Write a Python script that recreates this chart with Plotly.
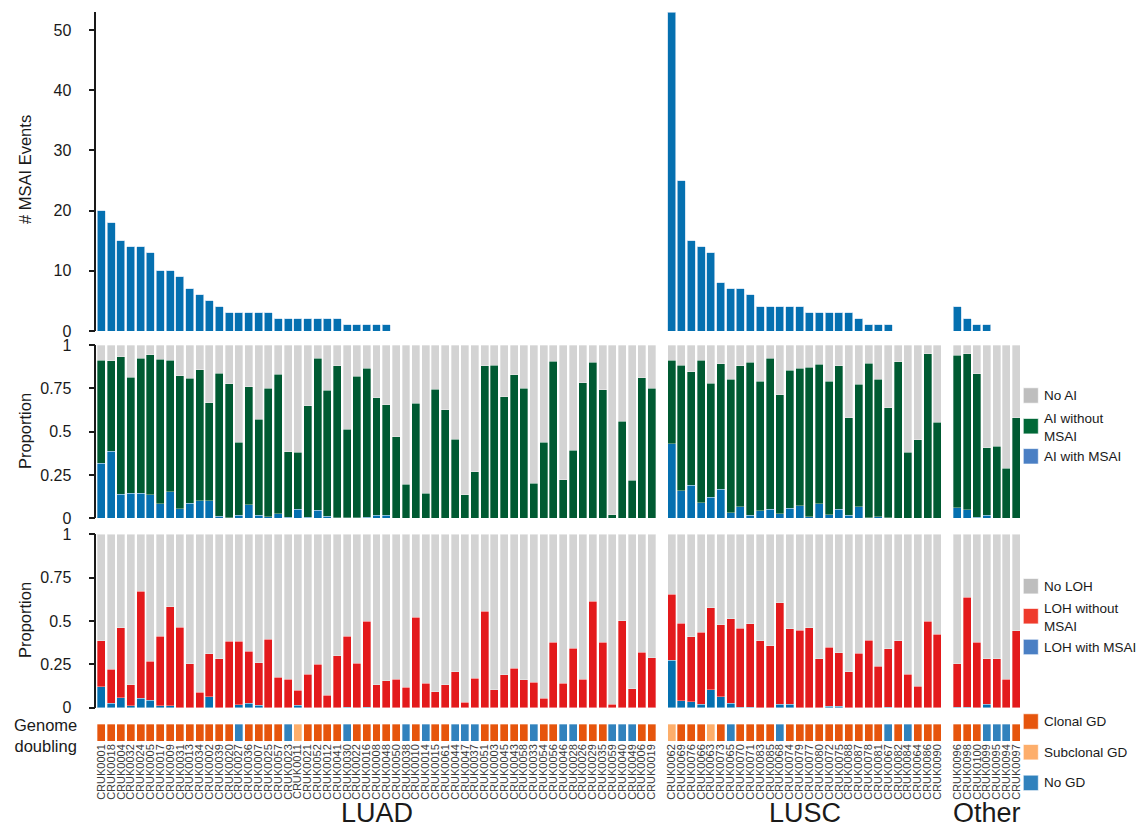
import plotly.graph_objects as go

W, H = 1136, 828

# ---------------- data ----------------
luad_ids = ["CRUK0001", "CRUK0018", "CRUK0004", "CRUK0032", "CRUK0024", "CRUK0005", "CRUK0017", "CRUK0009",
            "CRUK0031", "CRUK0013", "CRUK0034", "CRUK0002", "CRUK0039", "CRUK0020", "CRUK0027", "CRUK0036",
            "CRUK0007", "CRUK0025", "CRUK0057", "CRUK0023", "CRUK0011", "CRUK0021", "CRUK0052", "CRUK0012",
            "CRUK0041", "CRUK0030", "CRUK0022", "CRUK0016", "CRUK0008", "CRUK0048", "CRUK0050", "CRUK0038",
            "CRUK0010", "CRUK0014", "CRUK0015", "CRUK0061", "CRUK0044", "CRUK0047", "CRUK0037", "CRUK0051",
            "CRUK0003", "CRUK0045", "CRUK0043", "CRUK0058", "CRUK0033", "CRUK0054", "CRUK0056", "CRUK0046",
            "CRUK0028", "CRUK0026", "CRUK0029", "CRUK0035", "CRUK0059", "CRUK0040", "CRUK0049", "CRUK0006",
            "CRUK0019"]
lusc_ids = ["CRUK0062", "CRUK0069", "CRUK0076", "CRUK0066", "CRUK0063", "CRUK0073", "CRUK0065", "CRUK0070",
            "CRUK0071", "CRUK0083", "CRUK0085", "CRUK0068", "CRUK0074", "CRUK0079", "CRUK0077", "CRUK0080",
            "CRUK0072", "CRUK0075", "CRUK0088", "CRUK0087", "CRUK0078", "CRUK0081", "CRUK0067", "CRUK0082",
            "CRUK0084", "CRUK0064", "CRUK0086", "CRUK0090"]
other_ids = ["CRUK0096", "CRUK0098", "CRUK0100", "CRUK0099", "CRUK0095", "CRUK0094", "CRUK0097"]

# number of MSAI events
luad_msai = [20, 18, 15, 14, 14, 13, 10, 10, 9, 7, 6, 5, 4, 3, 3, 3, 3, 3, 2, 2,
             2, 2, 2, 2, 2, 1, 1, 1, 1, 1, 0, 0, 0, 0, 0, 0, 0, 0, 0, 0,
             0, 0, 0, 0, 0, 0, 0, 0, 0, 0, 0, 0, 0, 0, 0, 0, 0]
lusc_msai = [53, 25, 15, 14, 13, 8, 7, 7, 6, 4, 4, 4, 4, 4, 3, 3, 3, 3, 3, 2,
             1, 1, 1, 0, 0, 0, 0, 0]
other_msai = [4, 2, 1, 1, 0, 0, 0]

# proportion of genome with allelic imbalance (any) and with MSAI
luad_ai_any = [0.913, 0.91, 0.933, 0.813, 0.925, 0.944, 0.917, 0.913, 0.823, 0.808,
               0.856, 0.667, 0.837, 0.777, 0.438, 0.76, 0.573, 0.75, 0.831, 0.385,
               0.381, 0.65, 0.925, 0.74, 0.879, 0.513, 0.821, 0.867, 0.696, 0.654,
               0.471, 0.196, 0.665, 0.144, 0.744, 0.627, 0.456, 0.135, 0.269, 0.879,
               0.883, 0.7, 0.827, 0.75, 0.202, 0.44, 0.906, 0.223, 0.394, 0.783,
               0.9, 0.742, 0.021, 0.56, 0.221, 0.812, 0.75]
luad_ai_msai = [0.319, 0.388, 0.138, 0.146, 0.144, 0.135, 0.085, 0.152, 0.056, 0.087,
                0.1, 0.1, 0.013, 0.003, 0.017, 0.077, 0.019, 0.01, 0.025, 0.006,
                0.052, 0.006, 0.046, 0.012, 0.003, 0.003, 0.003, 0.006, 0.017, 0.017,
                0, 0, 0, 0, 0, 0, 0, 0, 0, 0,
                0, 0, 0, 0, 0, 0, 0, 0, 0, 0,
                0, 0, 0, 0, 0, 0, 0]
lusc_ai_any = [0.913, 0.883, 0.846, 0.913, 0.779, 0.892, 0.802, 0.881, 0.9, 0.792,
               0.923, 0.712, 0.854, 0.867, 0.871, 0.888, 0.792, 0.881, 0.581, 0.773,
               0.896, 0.802, 0.638, 0.902, 0.381, 0.452, 0.95, 0.554]
lusc_ai_msai = [0.431, 0.16, 0.192, 0.09, 0.121, 0.169, 0.033, 0.067, 0.017, 0.044,
                0.052, 0.025, 0.058, 0.073, 0.01, 0.085, 0.021, 0.052, 0.017, 0.067,
                0.004, 0.008, 0.004, 0, 0, 0, 0, 0]
other_ai_any = [0.94, 0.95, 0.835, 0.408, 0.417, 0.29, 0.581]
other_ai_msai = [0.06, 0.048, 0.006, 0.019, 0, 0, 0]

# proportion of genome with LOH (any) and with MSAI
luad_loh_any = [0.387, 0.223, 0.46, 0.131, 0.671, 0.267, 0.413, 0.583, 0.463, 0.252,
                0.09, 0.31, 0.283, 0.383, 0.383, 0.325, 0.258, 0.394, 0.175, 0.163,
                0.102, 0.192, 0.25, 0.071, 0.3, 0.413, 0.256, 0.498, 0.131, 0.154,
                0.163, 0.117, 0.521, 0.14, 0.092, 0.131, 0.208, 0.031, 0.171, 0.556,
                0.104, 0.19, 0.227, 0.162, 0.146, 0.054, 0.377, 0.14, 0.344, 0.163,
                0.615, 0.377, 0.019, 0.502, 0.11, 0.319, 0.287]
luad_loh_msai = [0.121, 0.027, 0.056, 0.01, 0.054, 0.044, 0.01, 0.01, 0, 0,
                 0, 0.063, 0, 0, 0.017, 0.027, 0.015, 0, 0, 0,
                 0.015, 0, 0, 0, 0, 0.004, 0, 0.004, 0, 0,
                 0, 0, 0, 0, 0, 0, 0, 0, 0, 0,
                 0, 0, 0, 0, 0, 0, 0, 0, 0, 0,
                 0, 0, 0, 0, 0, 0, 0]
lusc_loh_any = [0.654, 0.488, 0.41, 0.435, 0.577, 0.477, 0.513, 0.458, 0.485, 0.385,
                0.356, 0.606, 0.454, 0.448, 0.462, 0.281, 0.35, 0.317, 0.208, 0.313,
                0.388, 0.238, 0.34, 0.385, 0.192, 0.123, 0.498, 0.423]
lusc_loh_msai = [0.275, 0.04, 0.033, 0.019, 0.104, 0.063, 0.025, 0.004, 0.004, 0,
                 0, 0.021, 0.019, 0, 0, 0, 0.008, 0.008, 0, 0,
                 0, 0, 0.004, 0, 0, 0, 0, 0]
other_loh_any = [0.254, 0.638, 0.377, 0.281, 0.281, 0.163, 0.444]
other_loh_msai = [0.004, 0.004, 0, 0.019, 0, 0, 0]

# genome doubling status: C = clonal GD, S = subclonal GD, N = no GD
luad_gd = ["C", "C", "C", "C", "C", "C", "C", "C", "C", "C", "C", "C", "C", "C", "N", "C", "C", "C", "C", "N",
           "S", "C", "C", "C", "C", "N", "C", "C", "C", "C", "C", "N", "C", "N", "C", "C", "N", "N", "N", "C",
           "C", "C", "C", "C", "N", "C", "C", "N", "N", "C", "C", "C", "N", "N", "N", "C", "C"]
lusc_gd = ["S", "C", "C", "C", "S", "C", "N", "C", "C", "C", "C", "N", "C", "C", "C", "C", "C", "C", "C", "C",
           "C", "C", "N", "C", "N", "C", "C", "C"]
other_gd = ["C", "C", "C", "N", "N", "N", "C"]

group_names = ["LUAD", "LUSC", "Other"]
ai_legend_labels = ["No AI", "AI without<br>MSAI", "AI with MSAI"]
loh_legend_labels = ["No LOH", "LOH without<br>MSAI", "LOH with MSAI"]
gd_legend_labels = ["Clonal GD", "Subclonal GD", "No GD"]

# ---------------- styling ----------------
FONT = "Arial, 'Liberation Sans', Helvetica, sans-serif"
C_BLUE = "#0570b0"
C_GREEN = "#005a32"
C_GREY = "#d3d3d3"
C_RED = "#e31a1c"
GD_COLORS = {"C": "#e6550d", "S": "#fdae6b", "N": "#3182bd"}
EDGE = "rgba(255,255,255,0.55)"
TXT = "#1a1a1a"


def px_x(p):
    return p / W


def px_y(p):
    return 1 - p / H


x_domains = [[px_x(96.4), px_x(656.6)], [px_x(666.6), px_x(942.4)], [px_x(952.4), px_x(1021.2)]]
y_top = [px_y(331), px_y(12)]
y_ai = [px_y(518.3), px_y(345)]
y_loh = [px_y(707.7), px_y(534.3)]
y_gd = [px_y(741), px_y(724)]

groups = [
    (luad_ids, luad_msai, luad_ai_any, luad_ai_msai, luad_loh_any, luad_loh_msai, luad_gd),
    (lusc_ids, lusc_msai, lusc_ai_any, lusc_ai_msai, lusc_loh_any, lusc_loh_msai, lusc_gd),
    (other_ids, other_msai, other_ai_any, other_ai_msai, other_loh_any, other_loh_msai, other_gd),
]

fig = go.Figure()
xnames = ["x", "x2", "x3"]

for gi, (ids, msai, ai_any, ai_m, loh_any, loh_m, gd) in enumerate(groups):
    xa = xnames[gi]
    # top: MSAI events
    fig.add_trace(go.Bar(x=ids, y=msai, xaxis=xa, yaxis="y", marker_color=C_BLUE,
                         marker_line=dict(color="#c6dbef", width=0.7), showlegend=False))
    # AI proportions
    ai_without = [a - m for a, m in zip(ai_any, ai_m)]
    ai_none = [1 - a for a in ai_any]
    for vals, col in [(ai_m, C_BLUE), (ai_without, C_GREEN), (ai_none, C_GREY)]:
        fig.add_trace(go.Bar(x=ids, y=vals, xaxis=xa, yaxis="y2", marker_color=col,
                             marker_line=dict(color=EDGE, width=0.6), showlegend=False))
    # LOH proportions
    loh_without = [a - m for a, m in zip(loh_any, loh_m)]
    loh_none = [1 - a for a in loh_any]
    for vals, col in [(loh_m, C_BLUE), (loh_without, C_RED), (loh_none, C_GREY)]:
        fig.add_trace(go.Bar(x=ids, y=vals, xaxis=xa, yaxis="y3", marker_color=col,
                             marker_line=dict(color=EDGE, width=0.6), showlegend=False))
    # genome doubling strip
    fig.add_trace(go.Bar(x=ids, y=[1] * len(ids), xaxis=xa, yaxis="y4",
                         marker_color=[GD_COLORS[g] for g in gd],
                         marker_line=dict(color=EDGE, width=0.6), showlegend=False))

yax_common = dict(anchor="x", showline=True, linecolor=TXT, linewidth=1.6,
                  ticks="outside", ticklen=6, tickwidth=1.6, tickcolor=TXT,
                  showgrid=False, zeroline=False, ticklabelstandoff=14, automargin=False,
                  tickfont=dict(family=FONT, size=16, color=TXT))
prop_ticks = dict(tickvals=[0, 0.25, 0.5, 0.75, 1], ticktext=["0", "0.25", "0.5", "0.75", "1"])

layout = dict(
    width=W, height=H, margin=dict(l=0, r=0, t=0, b=0, autoexpand=False),
    paper_bgcolor="white", plot_bgcolor="white",
    barmode="stack", bargap=0.19,
    font=dict(family=FONT, color=TXT),
    yaxis=dict(domain=y_top, range=[0, 53], tickvals=[0, 10, 20, 30, 40, 50], **yax_common),
    yaxis2=dict(domain=y_ai, range=[0, 1], **prop_ticks, **yax_common),
    yaxis3=dict(domain=y_loh, range=[0, 1], **prop_ticks, **yax_common),
    yaxis4=dict(domain=y_gd, range=[0, 1], anchor="x", showline=False, showgrid=False,
                zeroline=False, showticklabels=False, ticks="", automargin=False),
)
for gi, ids in enumerate([luad_ids, lusc_ids, other_ids]):
    key = "xaxis" if gi == 0 else f"xaxis{gi + 1}"
    layout[key] = dict(domain=x_domains[gi], anchor="y4", type="category",
                       range=[-0.5, len(ids) - 0.5], tickangle=-90, ticks="",
                       tickmode="array", tickvals=ids, ticktext=ids,
                       showline=False, showgrid=False, zeroline=False, automargin=False,
                       tickfont=dict(family=FONT, size=11, color="#3a3a3a"))
fig.update_layout(**layout)

annotations = []
# y titles
for text, yc in [("# MSAI Events", 170), ("Proportion", 431), ("Proportion", 620)]:
    annotations.append(dict(text=text, x=px_x(25), y=px_y(yc), xref="paper", yref="paper",
                            textangle=-90, showarrow=False, xanchor="center", yanchor="middle",
                            font=dict(family=FONT, size=16.5, color=TXT)))
annotations.append(dict(text="Genome<br>doubling", x=px_x(45), y=px_y(735), xref="paper", yref="paper",
                        showarrow=False, xanchor="center", yanchor="middle", align="center",
                        font=dict(family=FONT, size=16.5, color=TXT)))
# group labels
for gi, name in enumerate(group_names):
    xa = "x" if gi == 0 else f"x{gi + 1}"
    annotations.append(dict(text=name, x=0.5, y=px_y(813), xref=f"{xa} domain", yref="paper",
                            showarrow=False, xanchor="center", yanchor="middle",
                            font=dict(family=FONT, size=27, color=TXT)))

# custom legends
shapes = []
legend_sets = [
    (ai_legend_labels, ["#bebebe", "#006837", "#4a7fc4"], [395.5, 426.2, 456.3]),
    (loh_legend_labels, ["#bebebe", "#ef3b2c", "#4a7fc4"], [586.2, 616.2, 647.0]),
    (gd_legend_labels, ["#e6550d", "#fdae6b", "#3182bd"], [721.5, 752.2, 782.9]),
]
for labels, cols, centers in legend_sets:
    for lab, col, cy in zip(labels, cols, centers):
        shapes.append(dict(type="rect", xref="paper", yref="paper",
                           x0=px_x(1023.3), x1=px_x(1038.3), y0=px_y(cy + 7.7), y1=px_y(cy - 7.7),
                           fillcolor=col, line=dict(color="rgba(255,255,255,0.6)", width=1)))
        ty = cy + 1 if "<br>" in lab else cy
        annotations.append(dict(text=lab, x=px_x(1041.5), y=px_y(ty), xref="paper", yref="paper",
                                showarrow=False, xanchor="left", yanchor="middle", align="left",
                                font=dict(family=FONT, size=13.5, color=TXT)))

fig.update_layout(annotations=annotations, shapes=shapes)
fig.write_html("out.html")
